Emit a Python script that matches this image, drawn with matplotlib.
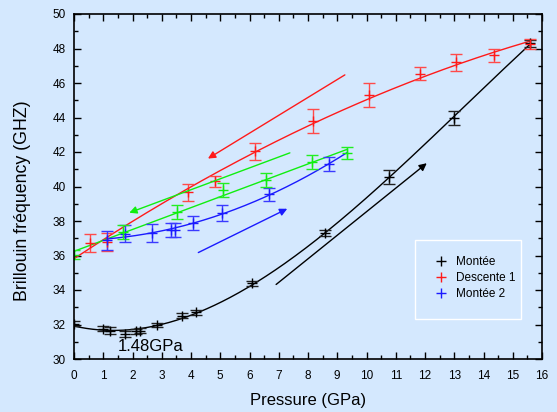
import numpy as np
import matplotlib
matplotlib.use("Agg")
import matplotlib.pyplot as plt
from matplotlib.patches import Rectangle
from matplotlib.lines import Line2D
from matplotlib.ticker import MultipleLocator
from matplotlib.transforms import IdentityTransform

plt.rcParams['font.family'] = ['Liberation Sans', 'DejaVu Sans']

# Montée (first compression)
p_up = [0.01, 0.98, 1.23, 1.74, 2.12, 2.26, 2.83, 3.68, 4.16, 6.10, 8.59, 10.77, 13.00, 15.59]
f_up = [32.05, 31.75, 31.65, 31.45, 31.60, 31.65, 31.95, 32.50, 32.70, 34.40, 37.30, 40.55, 43.95, 48.30]
e_up = [0.16, 0.15, 0.18, 0.15, 0.15, 0.15, 0.12, 0.15, 0.15, 0.15, 0.15, 0.40, 0.40, 0.22]

# Descente 1 (decompression)
p_down = [0.55, 1.14, 3.91, 4.82, 6.19, 8.18, 10.10, 11.83, 13.06, 14.35, 15.59]
f_down = [36.72, 36.78, 39.67, 40.30, 42.04, 43.80, 45.30, 46.55, 47.19, 47.60, 48.25]
e_down = [0.50, 0.50, 0.50, 0.30, 0.50, 0.70, 0.70, 0.40, 0.50, 0.40, 0.30]

# Second decompression branch (green)
p_green = [0.01, 1.68, 3.53, 5.10, 6.57, 8.15, 9.32]
f_green = [36.05, 37.35, 38.50, 39.80, 40.40, 41.40, 41.95]
e_green = [0.25, 0.40, 0.40, 0.40, 0.40, 0.40, 0.35]

# Montée 2 (second compression)
p_up2 = [1.12, 1.74, 2.65, 3.32, 3.45, 4.08, 5.07, 6.67, 8.73]
f_up2 = [36.88, 37.26, 37.30, 37.46, 37.50, 37.90, 38.46, 39.54, 41.31]
e_up2 = [0.55, 0.50, 0.50, 0.40, 0.40, 0.40, 0.45, 0.40, 0.40]

# Direction arrows: (start P, start F, end P, end F)
arrow_red = (9.26, 46.47, 4.58, 41.62)
arrow_green = (7.38, 41.95, 1.89, 38.48)
arrow_blue = (4.25, 36.17, 7.29, 38.71)
arrow_black = (6.91, 34.32, 12.06, 41.35)

legend_labels = ["Montée", "Descente 1", "Montée 2"]
min_label = "1.48GPa"

BG = '#D4E8FE'
RED = '#FF1A1A'
GREEN = '#10EE10'
BLUE = '#1A1AFF'
BLACK = '#000000'

fig = plt.figure(figsize=(5.57, 4.12), dpi=100, facecolor=BG)
ax = fig.add_axes([74/557, 1-359/412, (542-74)/557, (359-14)/412])
ax.set_facecolor(BG)

ax.set_xlim(0, 16)
ax.set_ylim(30, 50)

# fitted guide curves
def fit_curve(x, y, deg, x0, x1):
    c = np.polyfit(x, y, deg)
    xs = np.linspace(x0, x1, 300)
    return xs, np.polyval(c, xs)

xs, ys = fit_curve(p_up, f_up, 3, p_up[0], p_up[-1])
ax.plot(xs, ys, color=BLACK, lw=1.0)

xs, ys = fit_curve([p_green[0]] + p_down, [f_green[0]] + f_down, 2, 0.0, p_down[-1])
ax.plot(xs, ys, color=RED, lw=1.0)

xs, ys = fit_curve(p_green, f_green, 1, 0.0, p_green[-1])
ax.plot(xs, ys, color=GREEN, lw=1.0)

xs, ys = fit_curve(p_up2 + [p_green[-1]], f_up2 + [f_green[-1]], 2, p_up2[0], p_green[-1])
ax.plot(xs, ys, color=BLUE, lw=1.0)

eb_kw = dict(fmt='+', ms=7, mew=1.0, elinewidth=1.0, capsize=4, capthick=1.0)
ax.errorbar(p_up, f_up, yerr=e_up, color=BLACK, ecolor='#222222', **eb_kw)
ax.errorbar(p_down, f_down, yerr=e_down, color=RED, ecolor='#FF4A4A', **eb_kw)
ax.errorbar(p_up2, f_up2, yerr=e_up2, color=BLUE, ecolor='#3A3AFF', **eb_kw)
ax.errorbar(p_green, f_green, yerr=e_green, color=GREEN, ecolor='#22EE22', **eb_kw)

for arr, col in [(arrow_red, RED), (arrow_green, GREEN), (arrow_blue, BLUE), (arrow_black, BLACK)]:
    ax.annotate('', xy=(arr[2], arr[3]), xytext=(arr[0], arr[1]),
                arrowprops=dict(arrowstyle='-|>', color=col, lw=1.0,
                                mutation_scale=11, shrinkA=0, shrinkB=0))

ax.text(1.5, 30.75, min_label, fontsize=12, ha='left', va='center')

# axes styling
ax.xaxis.set_major_locator(MultipleLocator(1))
ax.xaxis.set_minor_locator(MultipleLocator(0.5))
ax.yaxis.set_major_locator(MultipleLocator(2))
ax.yaxis.set_minor_locator(MultipleLocator(1))
ax.tick_params(which='both', direction='in', top=True, right=True, width=1.0, labelsize=8.5)
ax.tick_params(axis='x', which='both', pad=8)
ax.tick_params(axis='y', which='both', pad=6)
ax.tick_params(which='major', length=5)
ax.tick_params(which='minor', length=3)
for s in ax.spines.values():
    s.set_linewidth(1.2)

ax.set_xlabel("Pressure (GPa)", fontsize=12, labelpad=8)
ax.set_ylabel("Brillouin fréquency (GHZ)", fontsize=12.8)
ax.yaxis.set_label_coords((31.5 - 74) / 468, 1 - (201 - 14) / 345)

# legend box
box = Rectangle((415, 412 - 319), 106, 79, transform=IdentityTransform(),
                facecolor=BG, edgecolor='white', lw=1.0, zorder=5, clip_on=False)
ax.add_artist(box)
handles = [Line2D([], [], ls='none', marker='+', ms=7, mew=1.0, color=c)
           for c in (BLACK, RED, BLUE)]
leg = ax.legend(handles, legend_labels, loc='upper left',
                bbox_to_anchor=((430 - 74) / 468, 1 - (251 - 14) / 345),
                frameon=False, fontsize=8.5, handlelength=1.0, handletextpad=0.8,
                labelspacing=0.35, borderaxespad=0)
leg.set_zorder(6)

fig.savefig("out.png", dpi=100, facecolor=BG)
